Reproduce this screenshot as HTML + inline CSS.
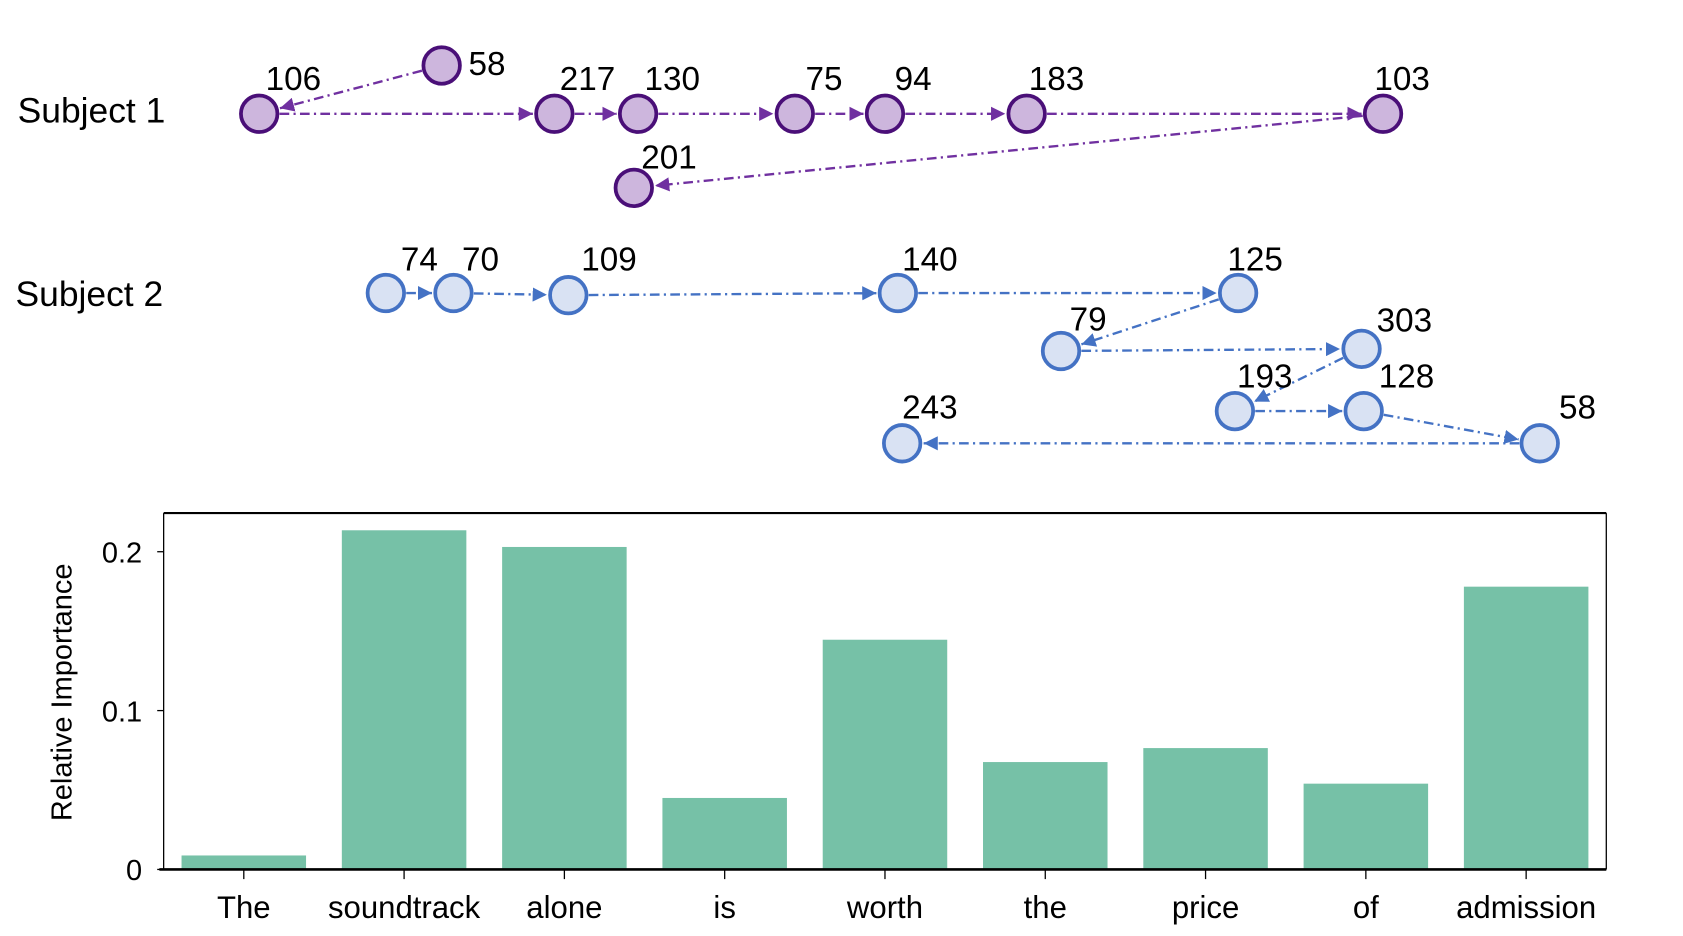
<!DOCTYPE html>
<html><head><meta charset="utf-8"><style>
html,body{margin:0;padding:0;background:#fff;}
svg{display:block;font-family:"Liberation Sans",Arial,sans-serif;}
</style></head><body>
<svg id="fig" width="1683" height="936" viewBox="0 0 1567 872" xmlns="http://www.w3.org/2000/svg">
<defs>
<marker id="a1" viewBox="0 0 10 10" refX="10" refY="5" markerWidth="6" markerHeight="6" orient="auto"><path d="M0,0 L10,5 L0,10 z" fill="#7030a0"/></marker>
<marker id="a2" viewBox="0 0 10 10" refX="10" refY="5" markerWidth="6" markerHeight="6" orient="auto"><path d="M0,0 L10,5 L0,10 z" fill="#4472c4"/></marker>
</defs>
<g id="graph"></g>
<g id="bars"></g>
</svg>
<script>
const NS="http://www.w3.org/2000/svg";
// Gaze nodes: [label, x, y, labelDx, labelDy]
const s1Nodes=[["106",241,106,6,-22],["58",411,61,25,9],["217",516,106,5,-22],["130",594,106,6,-22],["75",740,106,10,-22],["94",824,106,9,-22],["183",956,106,2,-22],["103",1288,106,-8,-22],["201",590,175,7,-18]];
const s1Edges=[[1,0],[0,2],[2,3],[3,4],[4,5],[5,6],[6,7],[7,8]];
const s2Nodes=[["74",359,273,14,-21],["70",422,273,8,-21],["109",529,275,12,-23],["140",836,273,4,-21],["125",1153,273,-10,-21],["79",988,327,8,-19],["303",1268,325,14,-16],["193",1150,383,2,-22],["128",1270,383,14,-22],["243",840,413,0,-23],["58",1434,413,18,-23]];
const s2Edges=[[0,1],[1,2],[2,3],[3,4],[4,5],[5,6],[6,7],[7,8],[8,10],[10,9]];
// Bar chart data
const words=["The","soundtrack","alone","is","worth","the","price","of","admission"];
const importance=[0.0088,0.2135,0.203,0.045,0.1446,0.0676,0.0764,0.054,0.178];
const yTicks=[0,0.1,0.2];
const yTickLabels=["0","0.1","0.2"];

const G=document.getElementById('graph');
function mk(t,a,p){const e=document.createElementNS(NS,t);for(const k in a)e.setAttribute(k,a[k]);(p||G).appendChild(e);return e;}
function txt(s,x,y,sz,p,anchor){const e=mk('text',{x:x,y:y,'font-size':sz,fill:'#000','text-anchor':anchor||'start'},p);e.textContent=s;return e;}
const R=19;
function drawSubject(nodes,edges,col,fill,stroke,mark,name){
  edges.forEach(([a,b])=>{
    const A=nodes[a],B=nodes[b];const dx=B[1]-A[1],dy=B[2]-A[2],L=Math.hypot(dx,dy);
    const ux=dx/L,uy=dy/L;
    const l=mk('line',{x1:A[1]+ux*R,y1:A[2]+uy*R,x2:B[1]-ux*(R+1),y2:B[2]-uy*(R+1),stroke:col,'stroke-width':2.2,'stroke-dasharray':'9,4,2,4','marker-end':'url(#'+mark+')'});
    
    
  });
  nodes.forEach(n=>{
    const c=mk('circle',{cx:n[1],cy:n[2],r:R-2,fill:fill,stroke:stroke,'stroke-width':3.5});
    
    
    const t=txt(n[0],n[1]+n[3],n[2]+n[4],31);
    
    
  });
}
drawSubject(s1Nodes,s1Edges,'#7030a0','#cdb6dd','#4a0f78','a1','subject1');
drawSubject(s2Nodes,s2Edges,'#4472c4','#d9e2f3','#4472c4','a2','subject2');
let t1=txt('Subject 1',16,114,33);
let t2=txt('Subject 2',14,285,33);

// Bar chart
const B=document.getElementById('bars');
const X0=152,X1=1496,Y0=810,YT=478;
const band=(X1-X0)/words.length;
const yS=v=>Y0-v*1480;
const xC=i=>X0+band*(i+0.5);
words.forEach((w,i)=>{
  const h=importance[i];
  const r=mk('rect',{x:xC(i)-58,y:yS(h),width:116,height:Y0-yS(h),fill:'#76c1a7'},B);
  
  
  mk('line',{x1:xC(i),y1:Y0,x2:xC(i),y2:Y0+9,stroke:'#000','stroke-width':1.2},B);
  const t=txt(w,xC(i),855,29,B,'middle');
  
  
});
yTicks.forEach((v,i)=>{
  mk('line',{x1:X0-6,y1:yS(v),x2:X0,y2:yS(v),stroke:'#000','stroke-width':1.2},B);
  const t=txt(yTickLabels[i],132,yS(v)+10,27,B,'end');
  
  
});
mk('line',{x1:X0,y1:YT,x2:X1,y2:YT,stroke:'#000','stroke-width':2},B);
mk('line',{x1:X0-4,y1:Y0,x2:X1,y2:Y0,stroke:'#000','stroke-width':2.4},B);
mk('line',{x1:X0,y1:YT,x2:X0,y2:Y0,stroke:'#000','stroke-width':1.2},B);
mk('line',{x1:X1,y1:YT,x2:X1,y2:Y0,stroke:'#000','stroke-width':1.2},B);
const yt=txt('Relative Importance',0,0,27,B,'middle');
yt.setAttribute('transform','translate(66,645) rotate(-90)');


</script>
</body></html>
